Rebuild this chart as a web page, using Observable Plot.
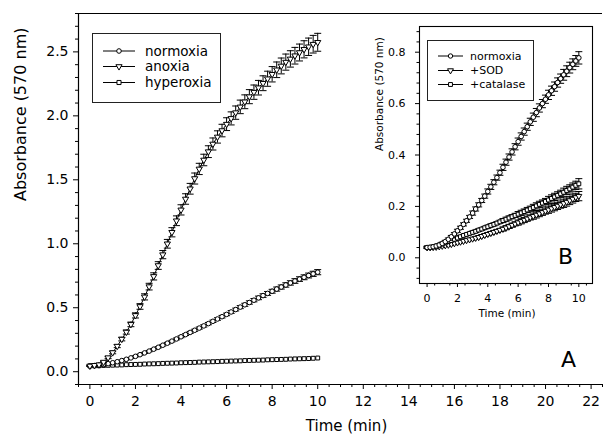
<!DOCTYPE html>
<html>
<head>
<meta charset="utf-8">
<script src="https://cdn.jsdelivr.net/npm/d3@7"></script>
<script src="https://cdn.jsdelivr.net/npm/@observablehq/plot@0.6"></script>
<style>
  body { margin: 0; background: #fff; }
  #wrap { position: relative; width: 604px; height: 437px; font-family: "DejaVu Sans", sans-serif; }
  #wrap svg { overflow: visible; }
</style>
</head>
<body>
<div id="wrap"></div>
<script>
// ---------- DATA ----------
const time = [0,0.2,0.4,0.6,0.8,1,1.2,1.4,1.6,1.8,2,2.2,2.4,2.6,2.8,3,3.2,3.4,3.6,3.8,4,4.2,4.4,4.6,4.8,5,5.2,5.4,5.6,5.8,6,6.2,6.4,6.6,6.8,7,7.2,7.4,7.6,7.8,8,8.2,8.4,8.6,8.8,9,9.2,9.4,9.6,9.8,10];

// Panel A
const seriesA = ["normoxia", "anoxia", "hyperoxia"];
const normoxiaA = [0.045,0.048,0.052,0.057,0.063,0.07,0.078,0.087,0.097,0.108,0.12,0.133,0.147,0.161,0.176,0.191,0.207,0.223,0.239,0.256,0.273,0.29,0.307,0.324,0.341,0.358,0.376,0.394,0.412,0.43,0.448,0.467,0.486,0.505,0.523,0.541,0.559,0.577,0.595,0.612,0.629,0.646,0.662,0.678,0.694,0.709,0.724,0.738,0.752,0.765,0.778];
const normoxiaAErr = [0.003,0.003,0.003,0.003,0.003,0.003,0.003,0.003,0.003,0.003,0.004,0.004,0.004,0.005,0.005,0.005,0.006,0.006,0.006,0.007,0.007,0.007,0.008,0.008,0.008,0.009,0.009,0.009,0.01,0.01,0.01,0.011,0.011,0.012,0.012,0.013,0.013,0.014,0.014,0.015,0.015,0.016,0.016,0.017,0.017,0.018,0.018,0.019,0.019,0.02,0.02];
const anoxiaA = [0.045,0.05,0.055,0.075,0.11,0.15,0.2,0.255,0.31,0.37,0.44,0.51,0.585,0.665,0.745,0.83,0.915,1.0,1.09,1.18,1.265,1.35,1.43,1.51,1.585,1.655,1.72,1.78,1.835,1.885,1.935,1.98,2.025,2.07,2.11,2.15,2.185,2.22,2.255,2.29,2.325,2.36,2.39,2.42,2.445,2.47,2.495,2.52,2.54,2.56,2.575];
const anoxiaAErr = [0.004,0.004,0.005,0.006,0.008,0.01,0.012,0.014,0.016,0.018,0.02,0.022,0.024,0.026,0.028,0.03,0.032,0.034,0.036,0.038,0.04,0.041,0.042,0.043,0.044,0.045,0.046,0.047,0.048,0.049,0.05,0.051,0.052,0.053,0.054,0.055,0.056,0.057,0.058,0.059,0.06,0.061,0.062,0.063,0.064,0.065,0.066,0.067,0.068,0.069,0.07];
const hyperoxiaA = [0.045,0.046,0.047,0.049,0.05,0.051,0.052,0.053,0.055,0.056,0.057,0.058,0.06,0.061,0.062,0.063,0.065,0.066,0.067,0.068,0.07,0.071,0.072,0.073,0.075,0.076,0.077,0.078,0.079,0.081,0.082,0.083,0.084,0.085,0.087,0.088,0.089,0.09,0.091,0.093,0.094,0.095,0.096,0.097,0.099,0.1,0.101,0.102,0.103,0.105,0.107];

// Panel B
const seriesB = ["normoxia", "+SOD", "+catalase"];
const normoxiaB = [0.04,0.041,0.043,0.046,0.05,0.056,0.063,0.072,0.082,0.093,0.105,0.117,0.13,0.144,0.159,0.174,0.19,0.206,0.223,0.24,0.258,0.276,0.294,0.312,0.331,0.352,0.372,0.392,0.412,0.432,0.452,0.472,0.491,0.51,0.529,0.547,0.565,0.583,0.6,0.617,0.634,0.65,0.666,0.682,0.697,0.712,0.726,0.74,0.753,0.766,0.778];
const normoxiaBErr = [0.004,0.004,0.004,0.004,0.004,0.005,0.005,0.005,0.005,0.005,0.006,0.006,0.006,0.006,0.006,0.008,0.008,0.008,0.008,0.008,0.01,0.01,0.01,0.01,0.01,0.012,0.012,0.012,0.012,0.012,0.014,0.014,0.014,0.014,0.014,0.016,0.016,0.016,0.016,0.016,0.018,0.018,0.018,0.018,0.018,0.021,0.021,0.021,0.021,0.021,0.024];
const sodB = [0.04,0.04,0.041,0.042,0.044,0.046,0.048,0.05,0.053,0.056,0.059,0.062,0.065,0.068,0.071,0.074,0.077,0.08,0.084,0.088,0.092,0.096,0.1,0.104,0.108,0.112,0.117,0.122,0.127,0.132,0.137,0.142,0.147,0.152,0.157,0.162,0.167,0.172,0.177,0.182,0.187,0.192,0.197,0.202,0.207,0.212,0.217,0.223,0.229,0.235,0.24];
const sodBErr = [0.002,0.002,0.002,0.002,0.002,0.003,0.003,0.003,0.003,0.003,0.004,0.004,0.004,0.004,0.004,0.005,0.005,0.005,0.005,0.005,0.006,0.006,0.006,0.006,0.006,0.008,0.008,0.008,0.008,0.008,0.01,0.01,0.01,0.01,0.01,0.012,0.012,0.012,0.012,0.012,0.014,0.014,0.014,0.014,0.014,0.016,0.016,0.016,0.016,0.016,0.018];
const catalaseB = [0.04,0.041,0.043,0.046,0.05,0.054,0.058,0.063,0.067,0.072,0.077,0.082,0.087,0.091,0.095,0.099,0.103,0.108,0.112,0.117,0.121,0.126,0.13,0.135,0.14,0.145,0.15,0.155,0.16,0.165,0.17,0.175,0.18,0.186,0.191,0.196,0.202,0.208,0.213,0.219,0.225,0.231,0.237,0.243,0.249,0.255,0.262,0.268,0.275,0.282,0.288];
const catalaseBErr = [0.002,0.002,0.002,0.002,0.002,0.003,0.003,0.003,0.003,0.003,0.004,0.004,0.004,0.004,0.004,0.005,0.005,0.005,0.005,0.005,0.006,0.006,0.006,0.006,0.006,0.008,0.008,0.008,0.008,0.008,0.01,0.01,0.01,0.01,0.01,0.012,0.012,0.012,0.012,0.012,0.014,0.014,0.014,0.014,0.014,0.016,0.016,0.016,0.016,0.016,0.02];

// Tick labels
const xTicksA = [0,2,4,6,8,10,12,14,16,18,20,22];
const yTicksA = [0.0,0.5,1.0,1.5,2.0,2.5];
const xTicksB = [0,2,4,6,8,10];
const yTicksB = [0.0,0.2,0.4,0.6,0.8];

// ---------- helpers ----------
const triDown = {
  draw(ctx, size) {
    const y = -Math.sqrt(size / (Math.sqrt(3) * 3));
    ctx.moveTo(0, -2 * y);
    ctx.lineTo(-Math.sqrt(3) * y, y);
    ctx.lineTo(Math.sqrt(3) * y, y);
    ctx.closePath();
  }
};
const cap = {
  draw(ctx) { ctx.moveTo(-3.5, 0); ctx.lineTo(3.5, 0); }
};
const symbolOf = {circle: "circle", tri: triDown, square: "square"};

function rows(vals, errs) {
  return time.map((t, i) => ({t, v: vals[i], e: errs ? errs[i] : 0}));
}

function seriesMarks(data, sym, withErr, r) {
  const m = [];
  if (withErr) {
    m.push(Plot.ruleX(data, {x: "t", y1: d => d.v - d.e, y2: d => d.v + d.e, stroke: "black", strokeWidth: 1}));
    m.push(Plot.dot(data, {x: "t", y: d => d.v + d.e, symbol: cap, fill: "none", stroke: "black", strokeWidth: 1}));
    m.push(Plot.dot(data, {x: "t", y: d => d.v - d.e, symbol: cap, fill: "none", stroke: "black", strokeWidth: 1}));
  }
  m.push(Plot.line(data, {x: "t", y: "v", stroke: "black", strokeWidth: 1}));
  m.push(Plot.dot(data, {x: "t", y: "v", symbol: symbolOf[sym], r: r, fill: "white", stroke: "black", strokeWidth: 1}));
  return m;
}

const font = "DejaVu Sans, sans-serif";

// ---------- Panel A ----------
const xDomA = [-0.5, 22.5], yDomA = [-0.1, 2.8];
const dataNormA = rows(normoxiaA, normoxiaAErr);
const dataAnoxA = rows(anoxiaA, anoxiaAErr);
const dataHypA = rows(hyperoxiaA, null);

const plotA = Plot.plot({
  width: 604, height: 437,
  marginTop: 13, marginRight: 2, marginBottom: 53, marginLeft: 78,
  style: {fontFamily: font, fontSize: "14px", background: "white", color: "black"},
  x: {domain: xDomA},
  y: {domain: yDomA},
  marks: [
    Plot.ruleX([xDomA[0]], {stroke: "black", strokeWidth: 1.2}),
    Plot.ruleY([yDomA[0]], {stroke: "black", strokeWidth: 1.2}),
    Plot.ruleY([yDomA[1]], {stroke: "black", strokeWidth: 1}),
    Plot.axisX({ticks: xTicksA, tickSize: 5, tickPadding: 7, tickFormat: d => String(d), label: null}),
    Plot.axisX({ticks: d3.range(-0.5, 22.51, 0.5).filter(v => Math.abs(v % 2) > 1e-6), tickSize: 3, tickFormat: () => "", label: null}),
    Plot.axisY({ticks: yTicksA, tickSize: 5, tickPadding: 5, tickFormat: d => d.toFixed(1), label: null}),
    Plot.axisY({ticks: d3.range(-0.1, 2.81, 0.1).filter(v => Math.abs(v / 0.5 - Math.round(v / 0.5)) > 1e-6), tickSize: 3, tickFormat: () => "", label: null}),
    ...seriesMarks(dataHypA, "square", false, 2.2),
    ...seriesMarks(dataNormA, "circle", true, 2.3),
    ...seriesMarks(dataAnoxA, "tri", true, 2.3),
    Plot.text(["Time (min)"], {frameAnchor: "bottom", dx: 6, dy: 42, fontSize: 15, lineAnchor: "middle"}),
    Plot.text(["Absorbance (570 nm)"], {frameAnchor: "left", rotate: -90, dx: -58, dy: 2, fontSize: 16, lineAnchor: "middle"}),
    Plot.text(["A"], {frameAnchor: "bottom-right", dx: -34, dy: -25, fontSize: 22, lineAnchor: "middle", textAnchor: "middle"})
  ]
});

// ---------- Panel B (inset) ----------
const xDomB = [-0.5, 10.9], yDomB = [-0.1, 0.9];
const dataNormB = rows(normoxiaB, normoxiaBErr);
const dataSodB = rows(sodB, sodBErr);
const dataCatB = rows(catalaseB, catalaseBErr);

const plotB = Plot.plot({
  width: 230, height: 305,
  marginTop: 10, marginRight: 8, marginBottom: 38, marginLeft: 49,
  style: {fontFamily: font, fontSize: "11px", background: "white", color: "black"},
  x: {domain: xDomB},
  y: {domain: yDomB},
  marks: [
    Plot.frame({stroke: "black", strokeWidth: 1.1}),
    Plot.axisX({ticks: xTicksB, tickSize: 4, tickPadding: 7, tickFormat: d => String(d), label: null}),
    Plot.axisX({ticks: d3.range(0.5, 10.6, 1), tickSize: 2.5, tickFormat: () => "", label: null}),
    Plot.axisY({ticks: yTicksB, tickSize: 4, tickPadding: 10, tickFormat: d => d.toFixed(1), label: null}),
    Plot.axisY({ticks: d3.range(-0.08, 0.89, 0.04).filter(v => Math.abs(v / 0.2 - Math.round(v / 0.2)) > 1e-6), tickSize: 2.5, tickFormat: () => "", label: null}),
    ...seriesMarks(dataSodB, "tri", true, 2.2),
    ...seriesMarks(dataCatB, "square", true, 2.2),
    ...seriesMarks(dataNormB, "circle", true, 2.3),
    Plot.text(["Time (min)"], {frameAnchor: "bottom", dx: 1, dy: 30, fontSize: 10.5, lineAnchor: "middle"}),
    Plot.text(["Absorbance (570 nm)"], {frameAnchor: "left", rotate: -90, dx: -40, dy: -4, fontSize: 10.5, lineAnchor: "middle"}),
    Plot.text(["B"], {frameAnchor: "bottom-right", dx: -27, dy: -27, fontSize: 22, lineAnchor: "middle", textAnchor: "middle"})
  ]
});

// ---------- Legends ----------
function legendSVG(names, syms, opt) {
  const {w, h, rowsY, x1, x2, xm, xt, fs, r} = opt;
  const ns = "http://www.w3.org/2000/svg";
  const svg = d3.create("svg").attr("xmlns", ns).attr("width", w).attr("height", h)
    .style("font-family", font);
  svg.append("rect").attr("x", 0.5).attr("y", 0.5).attr("width", w - 1).attr("height", h - 1)
    .attr("fill", "white").attr("stroke", "#222").attr("stroke-width", 1);
  names.forEach((name, i) => {
    const y = rowsY[i];
    svg.append("line").attr("x1", x1).attr("x2", x2).attr("y1", y).attr("y2", y).attr("stroke", "black");
    const s = syms[i];
    const type = s === "circle" ? d3.symbolCircle : s === "square" ? d3.symbolSquare : triDown;
    svg.append("path").attr("d", d3.symbol(type, Math.PI * r * r)()).attr("transform", `translate(${xm},${y})`)
      .attr("fill", "white").attr("stroke", "black");
    svg.append("text").attr("x", xt).attr("y", y).attr("dy", "0.35em").attr("font-size", fs).text(name);
  });
  return svg.node();
}

const legA = legendSVG(seriesA, ["circle", "tri", "square"],
  {w: 129, h: 70, rowsY: [18, 33.5, 49.5], x1: 11, x2: 43, xm: 27, xt: 53, fs: 13.5, r: 2.3});
const legB = legendSVG(seriesB, ["circle", "tri", "square"],
  {w: 107, h: 61, rowsY: [16, 30.5, 44.5], x1: 11, x2: 36, xm: 23.5, xt: 43, fs: 11, r: 2.2});

// ---------- Assemble ----------
const wrap = document.getElementById("wrap");
plotA.style.position = "absolute"; plotA.style.left = "0px"; plotA.style.top = "0px";
plotB.style.position = "absolute"; plotB.style.left = "370px"; plotB.style.top = "16px";
legA.style.position = "absolute"; legA.style.left = "92px"; legA.style.top = "33px";
legB.style.position = "absolute"; legB.style.left = "427px"; legB.style.top = "40px";
wrap.appendChild(plotA);
wrap.appendChild(plotB);
wrap.appendChild(legA);
wrap.appendChild(legB);
</script>
</body>
</html>
